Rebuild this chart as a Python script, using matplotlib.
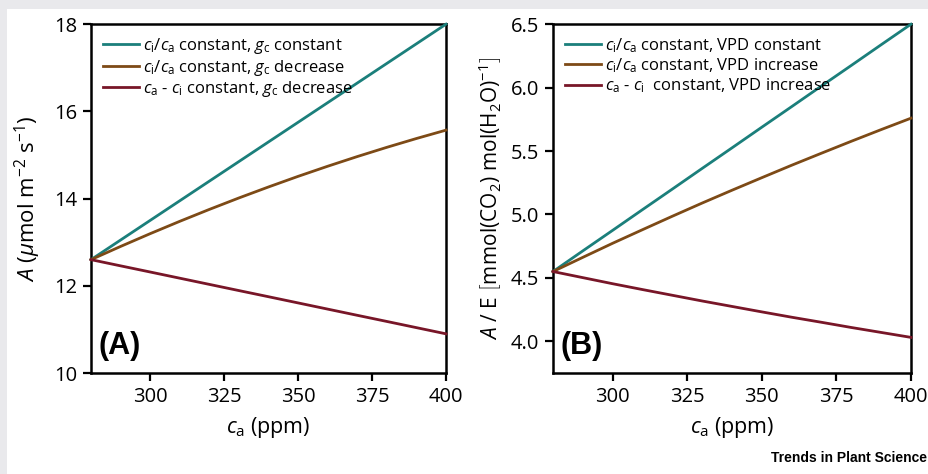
"""Photosynthesis vs. CO2 response chart, two panels (A and B)."""

import matplotlib
matplotlib.use('Agg')
import matplotlib.pyplot as plt
from matplotlib.patches import Rectangle

plt.rcParams['font.family'] = ['Open Sans', 'DejaVu Sans']
plt.rcParams['mathtext.fontset'] = 'custom'
plt.rcParams['mathtext.rm'] = 'Open Sans'
plt.rcParams['mathtext.it'] = 'Open Sans:italic'
plt.rcParams['mathtext.bf'] = 'Open Sans:bold'

# Data
ca = [280, 290, 300, 310, 320, 330, 340, 350, 360, 370, 380, 390, 400]

a_const = [12.6, 13.05, 13.5, 13.95, 14.4, 14.85, 15.3, 15.75, 16.2, 16.65,
           17.1, 17.55, 18.0]
a_gc_decr = [12.6, 12.903, 13.196, 13.479, 13.752, 14.015, 14.267, 14.51,
             14.742, 14.964, 15.176, 15.378, 15.57]
a_diff_gc_decr = [12.6, 12.458, 12.317, 12.175, 12.033, 11.891, 11.75, 11.608,
                  11.466, 11.324, 11.183, 11.041, 10.899]

we_const = [4.55, 4.713, 4.875, 5.038, 5.2, 5.363, 5.525, 5.688, 5.85, 6.013,
            6.175, 6.338, 6.5]
we_vpd_incr = [4.55, 4.662, 4.773, 4.88, 4.986, 5.09, 5.191, 5.29, 5.388,
               5.483, 5.577, 5.669, 5.759]
we_diff_vpd_incr = [4.55, 4.502, 4.454, 4.408, 4.363, 4.318, 4.275, 4.232,
                    4.19, 4.15, 4.109, 4.07, 4.031]

labels_a = [r'$c_{\rm i}/c_{\rm a}$ constant, $g_{\rm c}$ constant',
            r'$c_{\rm i}/c_{\rm a}$ constant, $g_{\rm c}$ decrease',
            r'$c_{\rm a}$ - $c_{\rm i}$ constant, $g_{\rm c}$ decrease']
labels_b = [r'$c_{\rm i}/c_{\rm a}$ constant, VPD constant',
            r'$c_{\rm i}/c_{\rm a}$ constant, VPD increase',
            r'$c_{\rm a}$ - $c_{\rm i}$  constant, VPD increase']

colors = ['#1b7f7b', '#7d4a16', '#781628']

fig = plt.figure(figsize=(9.29, 4.74), dpi=100)
fig.patch.set_facecolor('white')

# grey frame strips along top and left edge
grey = '#e9e9ec'
fig.patches.append(Rectangle((0, 1 - 9 / 474), 1, 9 / 474, transform=fig.transFigure,
                             facecolor=grey, edgecolor='none', zorder=0))
fig.patches.append(Rectangle((0, 0), 7 / 929, 1, transform=fig.transFigure,
                             facecolor=grey, edgecolor='none', zorder=0))

ax_a = fig.add_axes([91 / 929, 0.213, 355 / 929, 0.736])
ax_b = fig.add_axes([553 / 929, 0.213, 358 / 929, 0.736])


def style_axis(ax):
    for s in ax.spines.values():
        s.set_linewidth(1.8)
    ax.tick_params(direction='out', length=6, width=1.6, labelsize=14.5, pad=4)
    ax.set_xlim(280, 400)
    ax.set_xticks([300, 325, 350, 375, 400])
    ax.set_xlabel(r'$c_{\rm a}$ (ppm)', fontsize=15.5, labelpad=6)


def add_legend(ax):
    ax.legend(loc='upper left', frameon=False, fontsize=12, handlelength=2.2,
              handletextpad=0.2, labelspacing=0.1, borderaxespad=0.3,
              bbox_to_anchor=(0.0, 1.0))


series_a = [a_const, a_gc_decr, a_diff_gc_decr]
for ys, c, lab in zip(series_a, colors, labels_a):
    ax_a.plot(ca, ys, color=c, lw=2, label=lab, clip_on=False, zorder=3)
style_axis(ax_a)
ax_a.set_ylim(10, 18)
ax_a.set_yticks([10, 12, 14, 16, 18])
ax_a.set_ylabel(r'$A$ ($\mu$mol m$^{-2}$ s$^{-1}$)', fontsize=16, labelpad=8)
ax_a.text(0.02, 0.035, '(A)', transform=ax_a.transAxes, fontsize=22,
          fontweight='bold', family='Liberation Sans', va='bottom', ha='left')
add_legend(ax_a)

series_b = [we_const, we_vpd_incr, we_diff_vpd_incr]
for ys, c, lab in zip(series_b, colors, labels_b):
    ax_b.plot(ca, ys, color=c, lw=2, label=lab, clip_on=False, zorder=3)
style_axis(ax_b)
ax_b.set_ylim(3.75, 6.5)
ax_b.set_yticks([4.0, 4.5, 5.0, 5.5, 6.0, 6.5])
ax_b.set_yticklabels(['4.0', '4.5', '5.0', '5.5', '6.0', '6.5'])
ax_b.set_ylabel(r'$A$ / E $\left[\mathrm{mmol(CO_2)\ mol(H_2O)}^{-1}\right]$',
                fontsize=15, labelpad=5)
ax_b.text(0.02, 0.035, '(B)', transform=ax_b.transAxes, fontsize=22,
          fontweight='bold', family='Liberation Sans', va='bottom', ha='left')
add_legend(ax_b)

fig.text(0.998, 0.033, 'Trends in Plant Science', ha='right', va='center',
         fontsize=10, fontweight='bold', family='Liberation Sans')

fig.savefig('out.png', dpi=100, facecolor=fig.get_facecolor())
plt.close(fig)
